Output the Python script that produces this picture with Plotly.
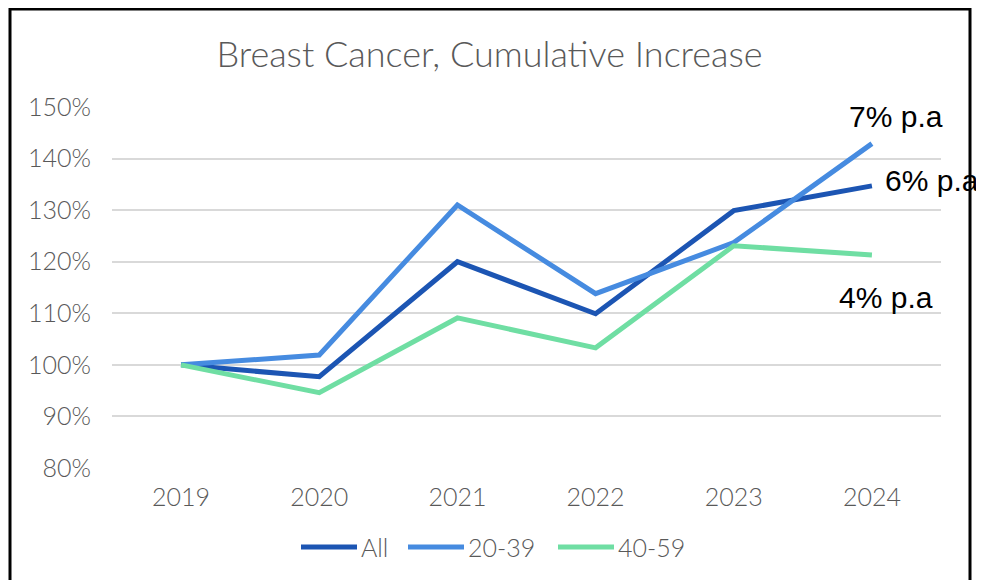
import plotly.graph_objects as go

years = ["2019", "2020", "2021", "2022", "2023", "2024"]
all_vals = [1.000, 0.977, 1.200, 1.099, 1.299, 1.347]
young_vals = [1.000, 1.019, 1.310, 1.138, 1.237, 1.429]
mid_vals = [1.000, 0.946, 1.091, 1.033, 1.231, 1.213]
series_names = ["All", "20-39", "40-59"]
colors = ["#1C55B3", "#468BE0", "#6FDEA3"]
labels = ["6% p.a", "7% p.a", "4% p.a"]
y_ticks = [0.8, 0.9, 1.0, 1.1, 1.2, 1.3, 1.4, 1.5]

fig = go.Figure()
for name, vals, c in zip(series_names, [all_vals, young_vals, mid_vals], colors):
    fig.add_trace(go.Scatter(x=years, y=vals, name=name, mode="lines",
                             line=dict(color=c, width=5), showlegend=False))

OFF = 8  # browser body margin
W, H = 984 - OFF, 580 - OFF
ml, mr, mt, mb = 112 - OFF, 43, 107 - OFF, 112
pw, ph = W - ml - mr, H - mt - mb

def px(x):
    return (x - OFF - ml) / pw

def py(y):
    return (H - mb - (y - OFF)) / ph

tick_font = dict(family="Lato", size=25, color="#595959", weight=300)

fig.update_layout(
    width=W, height=H,
    margin=dict(l=ml, r=mr, t=mt, b=mb),
    paper_bgcolor="white", plot_bgcolor="white",
    title=dict(text="Breast Cancer, Cumulative Increase",
               x=(489.5 - OFF) / W, xanchor="center",
               y=1 - (54 - OFF) / H, yanchor="middle",
               font=dict(family="Lato", size=36, color="#595959", weight=300)),
    font=dict(family="Lato", color="#595959", size=25),
    xaxis=dict(showgrid=False, showline=False, zeroline=False,
               ticks="", ticklabelstandoff=12, tickfont=tick_font,
               range=[-0.5, 5.5]),
    yaxis=dict(range=[0.8, 1.5], tickvals=y_ticks, tickformat=".0%",
               showgrid=True, gridcolor="#D9D9D9", gridwidth=2,
               zeroline=False, showline=False, ticklabelstandoff=20,
               tickfont=tick_font),
    showlegend=False,
)

# legend (drawn manually to match long key lines)
leg_x = [301, 408, 558]
for name, c, lx in zip(series_names, colors, leg_x):
    fig.add_shape(type="line", xref="paper", yref="paper",
                  x0=px(lx), x1=px(lx + 56), y0=py(547), y1=py(547),
                  line=dict(color=c, width=5))
    fig.add_annotation(xref="paper", yref="paper", x=px(lx + 58), y=py(547),
                       text=name, showarrow=False, xanchor="left", yanchor="middle",
                       font=tick_font)

# frame
fig.add_shape(type="path", xref="paper", yref="paper",
              path=f"M {px(10)} {py(640)} L {px(10)} {py(9)} L {px(970)} {py(9)} L {px(970)} {py(640)}",
              line=dict(color="black", width=3), layer="above")

last = len(years) - 1
ann_font = dict(family="Liberation Sans", size=30, color="black")
fig.add_annotation(x=last, y=young_vals[-1], text=labels[1], showarrow=False,
                   xanchor="center", yanchor="middle", xshift=24, yshift=27, font=ann_font)
fig.add_annotation(x=last, y=all_vals[-1], text=labels[0], showarrow=False,
                   xanchor="left", yanchor="middle", xshift=11, yshift=5, font=ann_font)
fig.add_annotation(x=last, y=mid_vals[-1], text=labels[2], showarrow=False,
                   xanchor="center", yanchor="middle", xshift=14, yshift=-42, font=ann_font)

fig.write_html("out.html")
